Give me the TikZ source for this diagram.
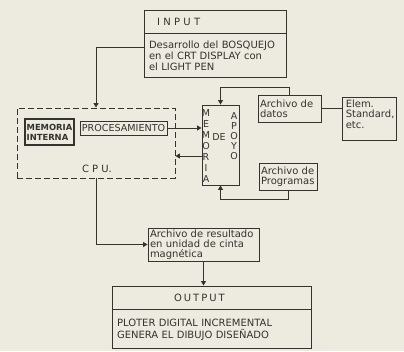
\documentclass[tikz,border=0pt]{standalone}
\usepackage{fontspec}
\setmainfont{DejaVu Sans}
\newfontfamily\dgSpaced[LetterSpace=20]{DejaVu Sans}
\usetikzlibrary{positioning,arrows.meta,calc}
\definecolor{dgBack}{HTML}{EDEAE0}
\definecolor{dgInk}{HTML}{33332F}
\tikzset{
  dg-box/.style={
    draw=dgInk, line width=0.9pt, text=dgInk, inner ysep=0pt,
    inner xsep=4pt, align=left, font=\fontsize{10}{11}\selectfont
  },
  dg-text/.style={text=dgInk, inner sep=0pt, align=center,
    font=\fontsize{10}{11}\selectfont},
  dg-flow/.style={-{Triangle[length=4.5pt,width=5pt]}, line width=0.9pt,
    draw=dgInk},
  dg-line/.style={line width=0.9pt, draw=dgInk}
}

\begin{document}
\begin{tikzpicture}[
  x=1pt, y=-1pt,
  node distance=0pt,
  vletters/.style={dg-text, font=\fontsize{9.5}{11}\selectfont}
]
\fill[dgBack] (0,0) rectangle (404,351);
\useasboundingbox (0,0) rectangle (404,351);

\node[dg-box, minimum width=142pt, minimum height=23pt, text width=130pt,
  inner xsep=6pt] (intitle) at (215,21.5) {\hspace*{7pt}I N P U T};
\node[dg-box, below=of intitle, minimum width=142pt, minimum height=44pt,
  text width=132pt, inner xsep=5pt] (inbody)
  {Desarrollo del BOSQUEJO\\en el CRT DISPLAY con\\el LIGHT PEN};

\node[draw=dgInk, line width=0.9pt, dash pattern=on 6pt off 3pt,
  minimum width=158pt, minimum height=70pt, inner sep=0pt] (cpu) at (96,143) {};
\node[dg-text] (cpulabel) at (97,169) {C P U.};
\node[dg-box, line width=1.3pt, minimum width=49pt, minimum height=26pt,
  inner xsep=1.5pt, font=\fontsize{8.4}{10}\selectfont\bfseries] (memint)
  at (49.5,132) {MEMORIA\\INTERNA};
\node[dg-box, minimum width=87pt, minimum height=14pt, inner xsep=0pt,
  align=center, font=\fontsize{9.6}{11}\selectfont] (proc) at (123.5,128)
  {PROCESAMIENTO};

\node[dg-box, minimum width=37pt, minimum height=80pt] (mem) at (220.5,145) {};
\node[vletters] (memleft) at (206,146.5) {M\\E\\M\\O\\R\\I\\A};
\node[vletters] (memmid) at (219,137) {DE};
\node[vletters, font=\fontsize{9.5}{10}\selectfont] (memright) at (234,136.5)
  {A\\P\\O\\Y\\O};

\node[dg-box, minimum width=63pt, minimum height=27pt, text width=59pt,
  inner xsep=2pt, font=\fontsize{10}{10}\selectfont] (datos) at (289.5,108.5)
  {Archivo de\\datos};
\node[dg-box, minimum width=54pt, minimum height=43pt] (elem) at (369,118.5) {};
\node[dg-text, align=left, anchor=north west, font=\fontsize{10}{10.5}\selectfont]
  (elemtext) at ([xshift=4pt,yshift=-3pt]elem.north west)
  {Elem.\\Standard,\\etc.};
\node[dg-box, minimum width=58pt, minimum height=27pt, text width=54pt,
  inner xsep=2pt, font=\fontsize{10}{10}\selectfont] (prog) at (288,176.5)
  {Archivo de\\Programas};

\node[dg-box, minimum width=111pt, minimum height=33pt, text width=107pt,
  inner xsep=2pt, font=\fontsize{10}{10}\selectfont] (result) at (203.5,244.5)
  {Archivo de resultado\\en unidad de cinta\\magn\'etica};

\node[dg-box, minimum width=199pt, minimum height=23pt, text width=189pt,
  inner xsep=5pt] (outtitle) at (211.5,297.5)
  {\hspace*{57pt}\dgSpaced OUTPUT};
\node[dg-box, below=of outtitle, minimum width=199pt, minimum height=39pt,
  text width=189pt, inner xsep=5pt, font=\fontsize{10}{12}\selectfont]
  (outbody) {PLOTER DIGITAL INCREMENTAL\\GENERA EL DIBUJO DISE\~NADO\\[4pt]};

\draw[dg-flow] ([yshift=8pt]inbody.west) -| (cpu.north);
\draw[dg-flow] (proc.east) -- (proc.east -| mem.west);
\draw[dg-flow] ([yshift=-11pt]mem.west) -- ([yshift=-11pt]mem.west -| cpu.east);
\draw[dg-flow] (datos.north) -- ++(0,-7) -| (mem.north);
\draw[dg-line] (datos.east) -- (datos.east -| elem.west);
\draw[dg-flow] (prog.south) -- ++(0,9) -| (mem.south);
\draw[dg-flow] (cpu.south) |- (result.west);
\draw[dg-flow] (result.south) -- (result.south |- outtitle.north);
\end{tikzpicture}
\end{document}
